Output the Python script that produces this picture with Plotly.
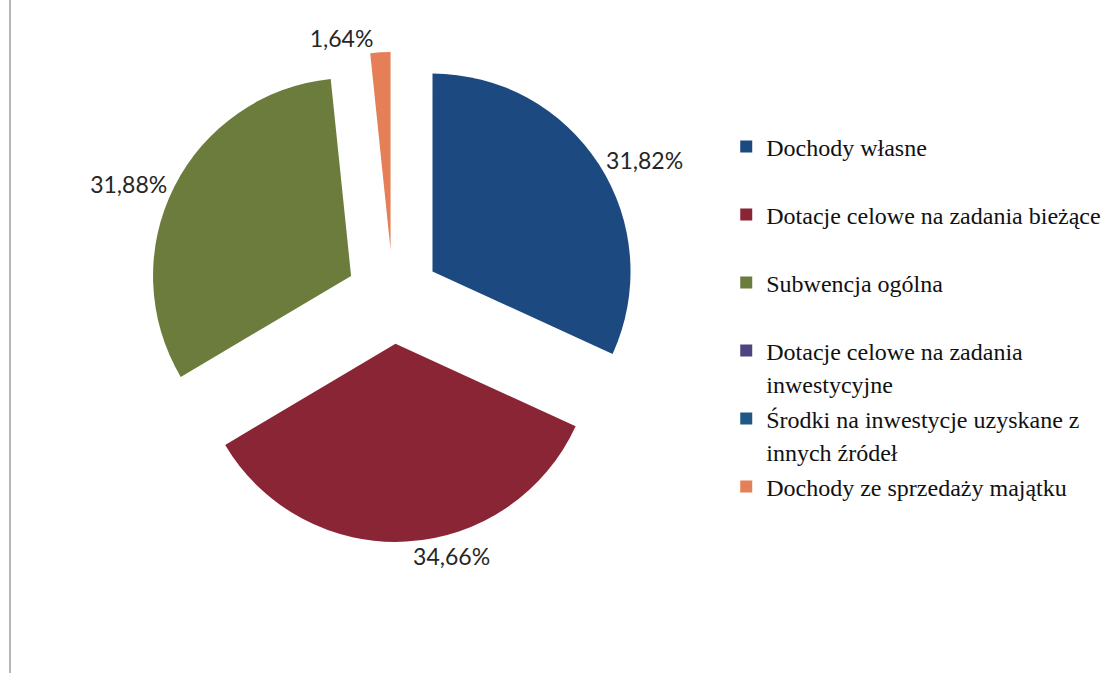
import plotly.graph_objects as go

# Data
labels = [
    "Dochody własne",
    "Dotacje celowe na zadania bieżące",
    "Subwencja ogólna",
    "Dotacje celowe na zadania inwestycyjne",
    "Środki na inwestycje uzyskane z innych źródeł",
    "Dochody ze sprzedaży majątku",
]
legend_lines = [
    ["Dochody własne"],
    ["Dotacje celowe na zadania bieżące"],
    ["Subwencja ogólna"],
    ["Dotacje celowe na zadania", "inwestycyjne"],
    ["Środki na inwestycje uzyskane z", "innych źródeł"],
    ["Dochody ze sprzedaży majątku"],
]
values = [31.82, 34.66, 31.88, 0.0, 0.0, 1.64]
colors = ["#1c4a80", "#8a2535", "#6b7c3c", "#4e4480", "#1f5886", "#e57f57"]

# every legend entry gets two lines so entries are evenly spaced
LEGEND_TEXT_PX = 24
legend_names = []
for lines in legend_lines:
    ls = list(lines) + ["\u00a0"] * (2 - len(lines))
    legend_names.append(
        "<br>".join(f"<span style='font-size:{LEGEND_TEXT_PX}px'>{s}</span>" for s in ls)
    )

texts = [(f"{v:.2f}".replace(".", ",") + "%") if v > 0 else "" for v in values]

fig = go.Figure(
    go.Pie(
        labels=legend_names,
        values=values,
        text=texts,
        textinfo="text",
        textposition="outside",
        textfont=dict(family="Lato", size=23, color="#262626"),
        marker=dict(colors=colors, line=dict(width=0)),
        sort=False,
        direction="clockwise",
        rotation=0,
        pull=0.237,
        domain=dict(x=[0.1321, 0.5741], y=[0.1947, 0.9227]),
        hovertemplate="%{customdata}: %{text}<extra></extra>",
        customdata=labels,
        automargin=False,
    )
)

fig.update_layout(
    width=1113,
    height=673,
    margin=dict(l=0, r=0, t=0, b=0, autoexpand=False),
    paper_bgcolor="white",
    plot_bgcolor="white",
    showlegend=True,
    legend=dict(
        x=0.6525,
        y=0.8160,
        xanchor="left",
        yanchor="top",
        valign="top",
        itemwidth=30,
        font=dict(family="Liberation Serif", size=25, color="#111111"),
        bgcolor="rgba(0,0,0,0)",
        traceorder="normal",
    ),
    shapes=[
        dict(
            type="line",
            xref="paper",
            yref="paper",
            x0=0.009,
            x1=0.009,
            y0=0,
            y1=1,
            line=dict(color="#b5b5b5", width=2),
        )
    ],
)

fig.write_html(
    "out.html",
    config={"displayModeBar": False},
    post_script="document.body.style.margin='0';",
)
